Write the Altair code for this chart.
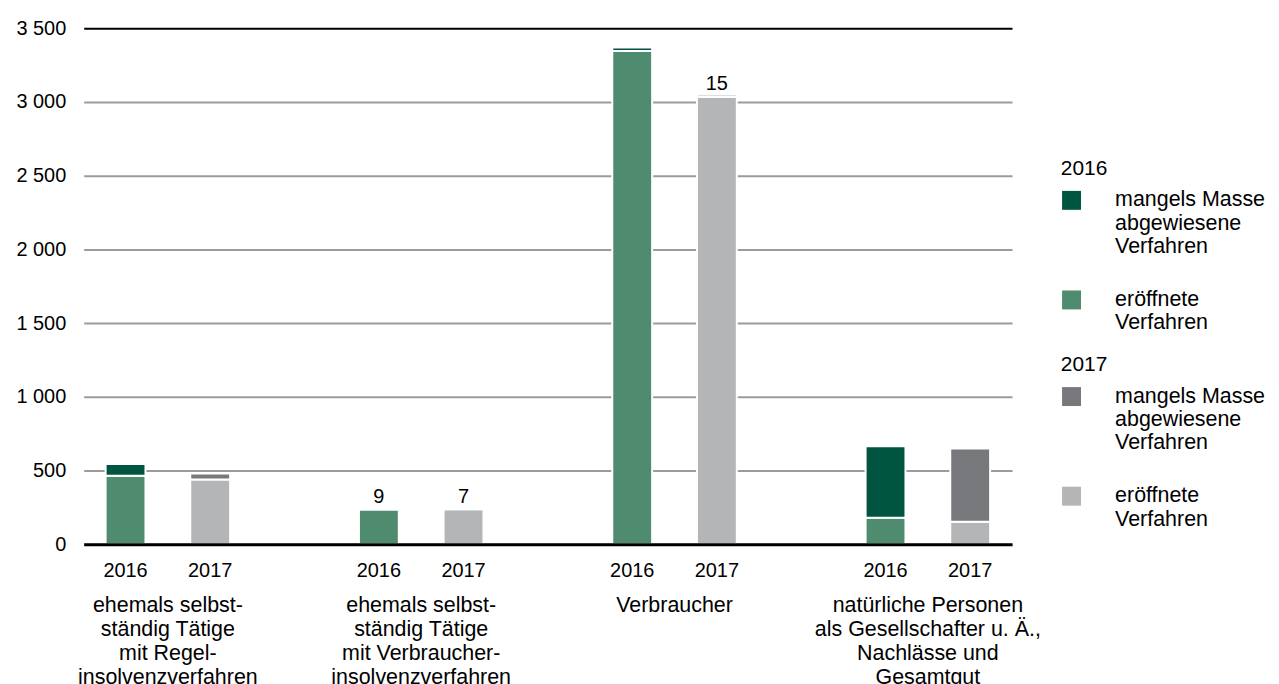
import altair as alt
import pandas as pd

# ---------------- data ----------------
groups = [
    "ehemals selbst-|ständig Tätige|mit Regel-|insolvenzverfahren",
    "ehemals selbst-|ständig Tätige|mit Verbraucher-|insolvenzverfahren",
    "Verbraucher",
    "natürliche Personen|als Gesellschafter u. Ä.,|Nachlässe und|Gesamtgut",
]
years = ["2016", "2017"]
types = ["mangels Masse|abgewiesene|Verfahren", "eröffnete|Verfahren"]

eroeffnet_2016 = [464, 236, 3346, 180]
mangels_2016 = [80, 9, 23, 484]
eroeffnet_2017 = [439, 237, 3035, 152]
mangels_2017 = [40, 7, 15, 498]
labelled_2016 = [False, True, False, False]
labelled_2017 = [False, True, True, False]

y_ticks = [0, 500, 1000, 1500, 2000, 2500, 3000, 3500]

colors_2016 = ["#005540", "#4f8b6f"]
colors_2017 = ["#77787b", "#b4b5b7"]

# ---------------- tables ----------------
rows = []
for year, er, ma in [("2016", eroeffnet_2016, mangels_2016), ("2017", eroeffnet_2017, mangels_2017)]:
    for i, g in enumerate(groups):
        rows.append({"Gruppe": g, "Jahr": year, "Serie": year + ": " + types[1], "ord": 0, "Wert": er[i]})
        rows.append({"Gruppe": g, "Jahr": year, "Serie": year + ": " + types[0], "ord": 1, "Wert": ma[i]})
df = pd.DataFrame(rows)
df16 = df[df.Jahr == "2016"]
df17 = df[df.Jahr == "2017"]

lab_rows = []
for year, er, ma, fl in [("2016", eroeffnet_2016, mangels_2016, labelled_2016),
                         ("2017", eroeffnet_2017, mangels_2017, labelled_2017)]:
    for i, g in enumerate(groups):
        lab_rows.append({"Gruppe": g, "Jahr": year, "Total": er[i] + ma[i],
                         "Label": str(ma[i]), "show": fl[i]})
lab = pd.DataFrame(lab_rows)
val_lab = lab[lab.show]

FONT = "Liberation Sans"
FS = 20
FS_CAT = 21.5

x_enc = alt.X(
    "Gruppe:N", sort=groups,
    scale=alt.Scale(domain=groups, paddingInner=0.3355, paddingOuter=0),
    axis=alt.Axis(title=None, labelExpr="split(datum.label, '|')", labelAngle=0,
                  labelFontSize=FS_CAT, labelLineHeight=24, labelPadding=51,
                  labelBaseline="top", ticks=False, domainColor="black",
                  domainWidth=3, labelLimit=400, labelOverlap=False,
                  labelColor="black", zindex=1),
)
xo_enc = alt.XOffset("Jahr:N", scale=alt.Scale(domain=years, paddingInner=0.529, paddingOuter=0.2588))
y_enc = alt.Y(
    "Wert:Q", stack="zero",
    scale=alt.Scale(domain=[0, 3500], nice=False),
    axis=alt.Axis(title=None, values=y_ticks,
                  labelExpr="replace(format(datum.value, ',d'), ',', ' ')",
                  domain=False, ticks=False, labelPadding=18, labelFontSize=FS,
                  labelColor="black", gridWidth=2,
                  gridColor={"condition": {"test": "datum.value === 3500", "value": "black"},
                             "value": "#9b9b9b"}),
)

label_expr_legend = "split(substring(datum.label, 6), '|')"

bars16 = alt.Chart(df16).mark_bar(stroke="white", strokeWidth=2).encode(
    x=x_enc, xOffset=xo_enc, y=y_enc,
    color=alt.Color("Serie:N",
                    scale=alt.Scale(domain=["2016: " + t for t in types], range=colors_2016),
                    legend=alt.Legend(title="2016", orient="none", legendX=981, legendY=130,
                                      labelExpr=label_expr_legend)),
    order=alt.Order("ord:Q", sort="ascending"),
)
bars17 = alt.Chart(df17).mark_bar(stroke="white", strokeWidth=2).encode(
    x=x_enc, xOffset=xo_enc, y=y_enc,
    fill=alt.Fill("Serie:N",
                  scale=alt.Scale(domain=["2017: " + t for t in types], range=colors_2017),
                  legend=alt.Legend(title="2017", orient="none", legendX=981, legendY=327,
                                    labelExpr=label_expr_legend)),
    order=alt.Order("ord:Q", sort="ascending"),
)

years_txt = alt.Chart(lab).mark_text(fontSize=FS, baseline="middle", font=FONT, color="black").encode(
    x=x_enc, xOffset=xo_enc, y=alt.value(545), text="Jahr:N",
)
vals_txt = alt.Chart(val_lab).mark_text(fontSize=FS, baseline="bottom", dy=-1, font=FONT, color="black").encode(
    x=x_enc, xOffset=xo_enc,
    y=alt.Y("Total:Q", scale=alt.Scale(domain=[0, 3500], nice=False)),
    text="Label:N",
)

chart = alt.layer(bars16, bars17, years_txt, vals_txt).properties(
    width=932, height=518,
    padding={"left": 7, "top": 9, "right": 5, "bottom": 5},
).configure(font=FONT).configure_view(strokeWidth=0).configure_legend(
    titleFontSize=21, titleFontWeight="normal", titleColor="black", titlePadding=11,
    labelFontSize=FS_CAT, labelColor="black", labelLimit=300, labelOffset=33,
    labelBaseline="middle", symbolType="square", symbolSize=361, symbolStrokeWidth=0,
    rowPadding=30,
)

chart.save("out.html", embed_options={"renderer": "svg", "actions": False})
